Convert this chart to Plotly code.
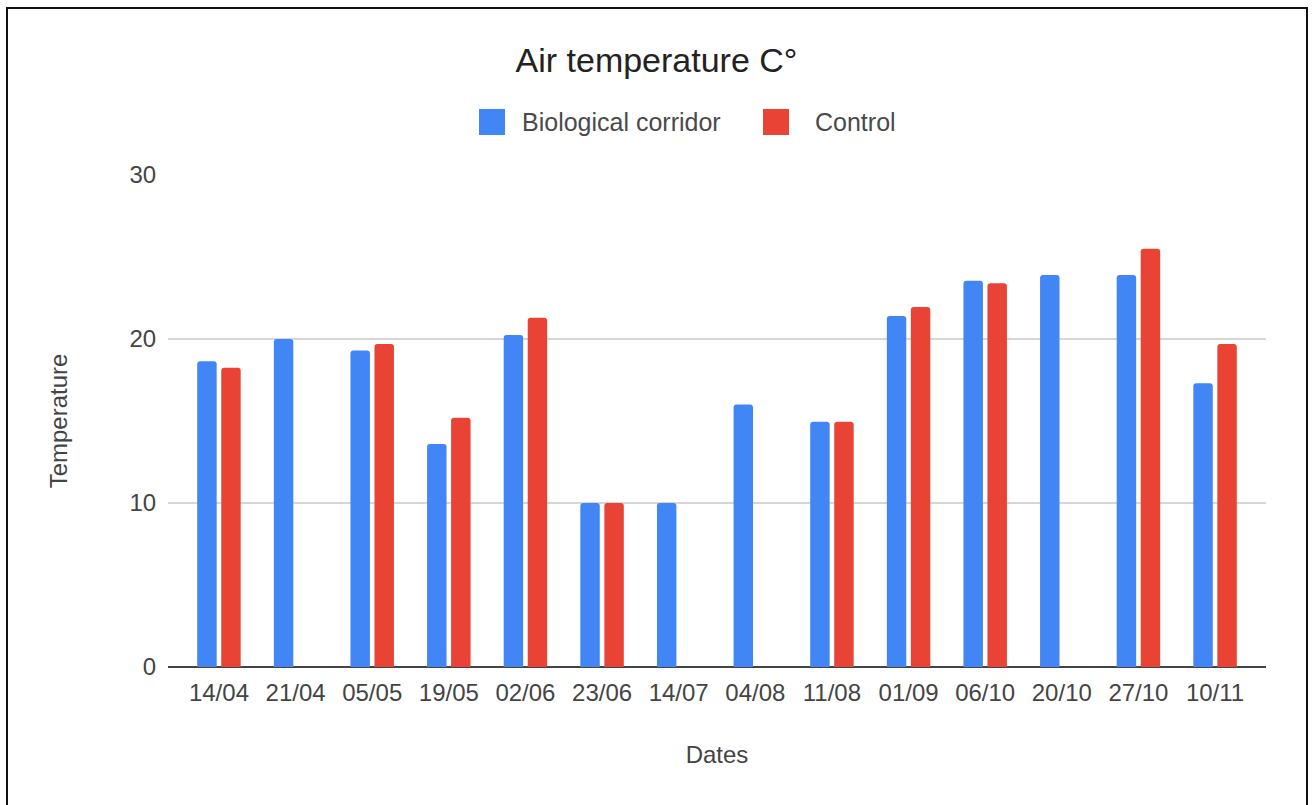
import plotly.graph_objects as go

# Sampling dates and air temperatures (°C)
dates = ["14/04", "21/04", "05/05", "19/05", "02/06", "23/06", "14/07",
         "04/08", "11/08", "01/09", "06/10", "20/10", "27/10", "10/11"]
corridor = [18.65, 20.0, 19.3, 13.6, 20.25, 10.0, 10.0,
            16.0, 14.95, 21.4, 23.55, 23.9, 23.9, 17.3]
control = [18.25, None, 19.7, 15.2, 21.3, 10.0, None,
           None, 14.95, 21.95, 23.4, None, 25.5, 19.7]

y_ticks = [0, 10, 20, 30]

W, H = 1313, 805
ML, MR, MT, MB = 168, 47, 175, 138
PW, PH = W - ML - MR, H - MT - MB

BLUE = "#4285F4"
RED = "#E84335"
FONT = "Arial, Liberation Sans, sans-serif"


def px_x(p):
    return (p - ML) / PW


def px_y(q):
    return (H - MB - q) / PH


fig = go.Figure()
fig.add_trace(go.Bar(x=dates, y=corridor, name="Biological corridor",
                     marker=dict(color=BLUE, cornerradius=3, line_width=0)))
fig.add_trace(go.Bar(x=dates, y=control, name="Control",
                     marker=dict(color=RED, cornerradius=3, line_width=0)))

shapes = [
    # outer frame
    dict(type="rect", xref="paper", yref="paper",
         x0=px_x(7), x1=px_x(1307), y0=px_y(815), y1=px_y(8),
         line=dict(color="#111111", width=2), fillcolor="rgba(0,0,0,0)", layer="above"),
    # legend swatches
    dict(type="rect", xref="paper", yref="paper",
         x0=px_x(479), x1=px_x(505), y0=px_y(135), y1=px_y(109),
         line=dict(width=0), fillcolor=BLUE),
    dict(type="rect", xref="paper", yref="paper",
         x0=px_x(763), x1=px_x(789), y0=px_y(135), y1=px_y(109),
         line=dict(width=0), fillcolor=RED),
]

annotations = [
    dict(text="Biological corridor", xref="paper", yref="paper",
         x=px_x(520), y=px_y(122), xanchor="left", yanchor="middle",
         showarrow=False, font=dict(family=FONT, size=25, color="#4a4a4a")),
    dict(text="Control", xref="paper", yref="paper",
         x=px_x(813), y=px_y(122), xanchor="left", yanchor="middle",
         showarrow=False, font=dict(family=FONT, size=25, color="#4a4a4a")),
]

fig.update_layout(
    width=W, height=H,
    margin=dict(l=ML, r=MR, t=MT, b=MB, pad=0),
    paper_bgcolor="white", plot_bgcolor="white",
    barmode="group", bargap=0.373, bargroupgap=0.19,
    showlegend=False,
    title=dict(text="Air temperature C°", x=0.5, xref="container", xanchor="center",
               y=1 - 60 / H, yref="container", yanchor="middle",
               font=dict(family=FONT, size=34, color="#222222")),
    font=dict(family=FONT, color="#444444"),
    shapes=shapes, annotations=annotations,
    xaxis=dict(type="category", range=[-0.665, 13.665],
               showgrid=False, zeroline=False, showline=False,
               ticks="outside", ticklen=4, tickcolor="rgba(0,0,0,0)",
               tickfont=dict(family=FONT, size=24, color="#444444"),
               title=dict(text="Dates", standoff=41,
                          font=dict(family=FONT, size=24, color="#444444"))),
    yaxis=dict(range=[0, 30], tickvals=y_ticks,
               showgrid=True, gridcolor="#d6d6d6", gridwidth=1.5,
               zeroline=True, zerolinecolor="#444444", zerolinewidth=2,
               showline=False, ticks="outside", ticklen=6,
               tickcolor="rgba(0,0,0,0)",
               tickfont=dict(family=FONT, size=24, color="#444444"),
               title=dict(text="Temperature", standoff=55,
                          font=dict(family=FONT, size=24, color="#444444"))),
)

fig.write_html("out.html")
